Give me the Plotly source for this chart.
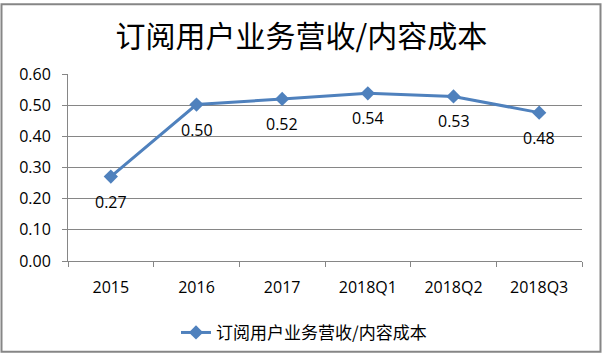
import plotly.graph_objects as go

categories = ["2015", "2016", "2017", "2018Q1", "2018Q2", "2018Q3"]
values = [0.271, 0.502, 0.520, 0.538, 0.528, 0.476]
series_name = "订阅用户业务营收/内容成本"
title_text = "订阅用户业务营收/内容成本"
y_ticks = [0.0, 0.1, 0.2, 0.3, 0.4, 0.5, 0.6]

W, H = 603, 363
L, R, T, B = 68, 21, 73.5, 96.3
pw, ph = W - L - R, H - T - B

def px_x(x):
    return (x - L) / pw

def px_y(y):
    return (H - B - y) / ph

GRID = "#868686"
BLUE = "#4F81BD"
FONT = "Open Sans"

fig = go.Figure()
fig.add_trace(go.Scatter(
    x=categories, y=values, mode="lines+markers", name=series_name,
    line=dict(color=BLUE, width=3),
    marker=dict(symbol="diamond", size=11, color=BLUE),
))

for i, v in enumerate(values):
    fig.add_annotation(x=i, y=v, text=f"{v:.2f}", showarrow=False,
                       yshift=-25, font=dict(family=FONT, size=16, color="#000"))

fig.update_layout(
    width=W, height=H,
    margin=dict(l=L, r=R, t=T, b=B),
    paper_bgcolor="white", plot_bgcolor="white",
    title=dict(text=title_text, x=0.5, xanchor="center", xref="container",
               y=1 - 36 / H, yref="container", yanchor="middle",
               font=dict(family="Noto Sans CJK SC", size=30, color="#000")),
    showlegend=True,
    legend=dict(orientation="h", x=px_x(176), xanchor="left", y=px_y(341), yanchor="middle",
                font=dict(family="Noto Sans CJK SC", size=17, color="#000"),
                bgcolor="rgba(0,0,0,0)"),
    xaxis=dict(type="category", showgrid=False, showline=True, linecolor=GRID, linewidth=1,
               ticks="outside", tickson="boundaries", ticklen=5, tickcolor=GRID,
               ticklabelstandoff=12,
               tickfont=dict(family=FONT, size=16, color="#000"),
               range=[-0.5, 5.5]),
    yaxis=dict(range=[0, 0.6], tickvals=y_ticks, tickformat=".2f",
               showgrid=True, gridcolor=GRID, gridwidth=1,
               showline=True, linecolor=GRID, linewidth=1, zeroline=False,
               ticks="outside", ticklen=5, tickcolor=GRID,
               ticklabelstandoff=8,
               tickfont=dict(family=FONT, size=16, color="#000")),
    shapes=[dict(type="rect", xref="paper", yref="paper",
                 x0=px_x(1.5), x1=px_x(600.5), y0=px_y(360.5), y1=px_y(1.5),
                 line=dict(color=GRID, width=2), fillcolor="rgba(0,0,0,0)", layer="below")],
)

fig.write_html("out.html", config={"displayModeBar": False},
               post_script="document.body.style.margin='0';")
